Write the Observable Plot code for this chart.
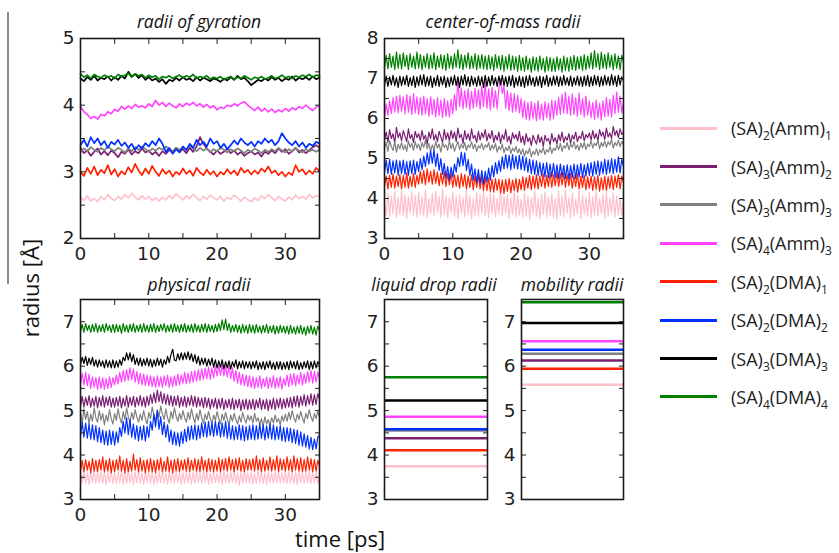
<!DOCTYPE html>
<html><head><meta charset="utf-8">
<script src="https://cdn.jsdelivr.net/npm/d3@7"></script>
<script src="https://cdn.jsdelivr.net/npm/@observablehq/plot@0.6"></script>
<style>
body{margin:0;background:#fff;}
#root{position:relative;width:839px;height:553px;overflow:hidden;background:#fff;}
.p{position:absolute;}
.t{position:absolute;font-family:"Open Sans";font-style:italic;font-size:17.5px;text-align:center;width:240px;color:#111;line-height:20px;}
.lab{position:absolute;font-family:"Open Sans";font-size:22px;color:#111;white-space:nowrap;line-height:24px;}
#legend{position:absolute;left:660px;top:109px;font-family:"Open Sans";font-size:18px;color:#222;}
.row{height:38.4px;display:flex;align-items:center;white-space:nowrap;}
.sw{width:57px;height:3px;margin-right:14px;}
sub{font-size:12px;vertical-align:-5px;line-height:0;}
</style></head>
<body><div id="root"></div>
<script>
// ---------- categories ----------
const series = ["(SA)_2(Amm)_1","(SA)_3(Amm)_2","(SA)_3(Amm)_3","(SA)_4(Amm)_3","(SA)_2(DMA)_1","(SA)_2(DMA)_2","(SA)_3(DMA)_3","(SA)_4(DMA)_4"];
const colors = ["#ffc0cb","#7a1f74","#808080","#ff44ff","#ff2200","#0030ff","#000000","#008000"];
const timeCoarse = d3.range(0, 35.001, 0.5);  // 71 samples [ps]
const timeFine = d3.range(0, 35.001, 0.25);   // 141 samples [ps]

// ---------- radii of gyration (every 0.5 ps) ----------
const rgPink = [2.62,2.57,2.64,2.56,2.60,2.55,2.63,2.58,2.66,2.60,
2.57,2.63,2.59,2.66,2.61,2.68,2.62,2.58,2.64,2.59,
2.63,2.57,2.61,2.56,2.62,2.58,2.64,2.60,2.67,2.62,
2.58,2.64,2.60,2.66,2.61,2.57,2.63,2.59,2.65,2.61,
2.58,2.63,2.56,2.62,2.59,2.65,2.61,2.56,2.62,2.58,
2.55,2.61,2.57,2.64,2.60,2.66,2.61,2.57,2.63,2.59,
2.56,2.62,2.58,2.65,2.60,2.63,2.59,2.66,2.61,2.64,2.63];
const rgPurple = [3.36,3.28,3.32,3.24,3.30,3.35,3.26,3.31,3.25,3.32,
3.28,3.22,3.30,3.27,3.34,3.26,3.31,3.28,3.35,3.29,
3.32,3.26,3.30,3.24,3.31,3.27,3.33,3.29,3.36,3.30,
3.34,3.28,3.36,3.30,3.38,3.52,3.42,3.35,3.30,3.26,
3.32,3.27,3.30,3.35,3.28,3.32,3.26,3.30,3.24,3.28,
3.31,3.26,3.29,3.23,3.30,3.27,3.32,3.28,3.35,3.30,
3.34,3.27,3.31,3.36,3.29,3.33,3.28,3.32,3.37,3.40,3.36];
const rgGray = [3.30,3.35,3.31,3.37,3.33,3.30,3.36,3.32,3.38,3.34,
3.31,3.36,3.33,3.29,3.35,3.31,3.37,3.33,3.38,3.34,
3.30,3.35,3.32,3.36,3.33,3.38,3.34,3.31,3.36,3.33,
3.37,3.33,3.39,3.35,3.31,3.36,3.32,3.35,3.30,3.34,
3.31,3.36,3.33,3.29,3.34,3.31,3.35,3.32,3.28,3.33,
3.30,3.35,3.32,3.28,3.33,3.30,3.34,3.31,3.36,3.32,
3.29,3.34,3.31,3.35,3.32,3.29,3.34,3.31,3.33,3.30,3.33];
const rgMagenta = [3.98,3.90,3.86,3.80,3.83,3.79,3.86,3.84,3.90,3.87,
3.94,3.91,3.98,3.94,3.99,3.95,4.01,3.97,3.99,3.96,
4.02,3.98,4.07,4.00,4.04,3.98,4.03,3.99,3.96,4.02,
3.98,4.03,4.00,4.04,3.99,4.02,3.97,4.01,3.96,3.99,
3.93,3.97,3.95,4.00,3.98,4.02,3.99,4.03,4.05,4.00,
3.96,3.92,3.97,3.91,3.95,3.90,3.94,3.89,3.93,3.90,
3.95,3.91,3.96,3.93,3.98,3.95,4.00,3.96,3.92,3.97,3.99];
const rgRed = [3.00,2.94,3.06,2.97,3.08,2.95,3.03,2.98,3.10,2.96,
3.04,2.93,3.01,2.96,3.07,2.99,3.12,3.02,2.95,3.05,
2.97,3.09,3.00,2.94,3.04,2.97,3.02,2.93,3.00,2.96,
3.05,2.97,3.02,2.94,3.06,2.99,2.95,3.03,2.96,3.01,
2.93,3.00,2.96,3.04,2.97,3.02,2.95,3.06,2.99,3.03,
2.96,3.02,2.97,3.05,3.00,3.08,2.98,3.02,2.95,3.00,
2.93,2.99,2.95,3.10,3.00,3.04,2.96,3.02,2.97,3.06,3.01];
const rgBlue = [3.40,3.48,3.38,3.52,3.43,3.50,3.40,3.46,3.36,3.45,
3.41,3.48,3.39,3.44,3.36,3.42,3.33,3.40,3.35,3.43,
3.38,3.46,3.40,3.50,3.42,3.30,3.36,3.27,3.34,3.29,
3.38,3.33,3.42,3.36,3.48,3.40,3.45,3.38,3.50,3.42,
3.46,3.36,3.42,3.34,3.40,3.47,3.41,3.50,3.44,3.40,
3.45,3.38,3.46,3.42,3.50,3.44,3.48,3.40,3.46,3.58,
3.50,3.44,3.40,3.46,3.38,3.44,3.36,3.42,3.39,3.45,3.42];
const rgBlack = [4.40,4.36,4.42,4.38,4.44,4.37,4.41,4.39,4.43,4.37,
4.42,4.38,4.44,4.40,4.50,4.43,4.47,4.41,4.45,4.38,
4.42,4.37,4.40,4.35,4.39,4.32,4.38,4.36,4.41,4.37,
4.42,4.38,4.40,4.36,4.42,4.37,4.41,4.39,4.36,4.40,
4.38,4.35,4.40,4.37,4.42,4.38,4.44,4.39,4.41,4.36,
4.30,4.34,4.38,4.36,4.40,4.37,4.42,4.38,4.41,4.36,
4.40,4.38,4.43,4.37,4.41,4.39,4.42,4.38,4.43,4.39,4.41];
const rgGreen = [4.47,4.42,4.45,4.40,4.46,4.43,4.41,4.45,4.42,4.44,
4.40,4.46,4.43,4.45,4.48,4.42,4.47,4.44,4.46,4.41,
4.45,4.42,4.44,4.39,4.43,4.41,4.44,4.40,4.43,4.45,
4.41,4.44,4.42,4.46,4.40,4.43,4.41,4.44,4.39,4.42,
4.40,4.43,4.38,4.41,4.43,4.39,4.42,4.40,4.44,4.41,
4.38,4.42,4.40,4.43,4.39,4.41,4.44,4.40,4.42,4.45,
4.41,4.43,4.40,4.44,4.42,4.45,4.43,4.46,4.42,4.45,4.44];

// ---------- center-of-mass radii (every 0.25 ps) ----------
const cmPink = [3.86,3.58,4.12,3.54,4.06,3.62,4.18,3.52,4.02,3.60,4.20,3.56,4.10,3.50,4.04,3.64,4.16,3.58,4.08,3.54,
4.14,3.60,4.04,3.56,4.22,3.52,4.00,3.62,4.12,3.58,4.18,3.66,4.06,3.54,4.24,3.60,4.08,3.52,4.02,3.64,
4.16,3.56,4.06,3.50,4.10,3.62,4.02,3.54,4.20,3.60,4.08,3.50,4.00,3.58,4.14,3.56,4.10,3.64,4.22,3.58,
4.04,3.52,4.16,3.62,4.10,3.54,4.00,3.60,4.22,3.56,4.06,3.62,4.12,3.50,4.02,3.60,4.18,3.54,4.08,3.58,
3.98,3.52,4.14,3.56,4.06,3.48,4.02,3.62,4.20,3.56,4.00,3.50,4.10,3.60,4.16,3.54,4.04,3.58,4.12,3.52,
4.00,3.48,4.18,3.58,4.06,3.54,4.22,3.64,4.02,3.52,4.14,3.56,3.98,3.62,4.20,3.50,4.08,3.60,4.02,3.56,
4.16,3.52,4.04,3.58,4.22,3.56,4.00,3.62,4.10,3.50,4.18,3.56,4.02,3.64,4.14,3.54,4.06,3.60,4.00,3.56,4.04];
const cmPurple = [5.48,5.66,5.40,5.72,5.50,5.62,5.38,5.78,5.52,5.64,5.44,5.70,5.56,5.42,5.74,5.50,5.60,5.40,5.68,5.52,
5.62,5.44,5.70,5.48,5.58,5.36,5.66,5.50,5.74,5.46,5.60,5.42,5.68,5.54,5.40,5.72,5.48,5.64,5.44,5.70,
5.50,5.66,5.42,5.76,5.52,5.60,5.38,5.70,5.48,5.62,5.44,5.74,5.50,5.58,5.40,5.68,5.46,5.64,5.52,5.72,
5.44,5.62,5.50,5.70,5.40,5.58,5.46,5.66,5.38,5.60,5.48,5.72,5.42,5.56,5.36,5.64,5.50,5.60,5.44,5.68,
5.40,5.56,5.34,5.62,5.42,5.52,5.32,5.58,5.46,5.36,5.60,5.40,5.54,5.30,5.58,5.44,5.50,5.34,5.62,5.42,
5.52,5.36,5.60,5.44,5.66,5.40,5.54,5.46,5.62,5.38,5.58,5.48,5.66,5.42,5.56,5.50,5.68,5.44,5.60,5.52,
5.64,5.46,5.70,5.50,5.62,5.44,5.72,5.56,5.66,5.48,5.76,5.54,5.64,5.50,5.80,5.58,5.70,5.52,5.74,5.60,5.66];
const cmGray = [5.26,5.40,5.18,5.44,5.30,5.20,5.42,5.16,5.36,5.24,5.40,5.22,5.34,5.18,5.44,5.28,5.38,5.20,5.42,5.26,
5.36,5.20,5.40,5.28,5.46,5.24,5.38,5.18,5.34,5.22,5.42,5.26,5.36,5.16,5.40,5.28,5.34,5.20,5.44,5.24,
5.38,5.18,5.32,5.42,5.22,5.36,5.26,5.40,5.20,5.34,5.28,5.42,5.24,5.36,5.18,5.32,5.26,5.38,5.22,5.34,
5.28,5.40,5.20,5.34,5.24,5.38,5.16,5.30,5.22,5.36,5.14,5.28,5.20,5.32,5.12,5.26,5.18,5.30,5.14,5.24,
5.10,5.24,5.06,5.20,5.12,5.26,5.04,5.18,5.10,5.24,5.08,5.22,5.14,5.28,5.10,5.22,5.16,5.30,5.12,5.26,
5.20,5.34,5.22,5.38,5.18,5.32,5.26,5.40,5.22,5.36,5.28,5.42,5.24,5.34,5.20,5.38,5.26,5.40,5.22,5.36,
5.30,5.44,5.26,5.38,5.32,5.46,5.24,5.40,5.30,5.44,5.28,5.42,5.34,5.48,5.26,5.40,5.32,5.46,5.30,5.42,5.36];
const cmMagenta = [6.02,6.36,6.08,6.44,6.12,6.52,6.16,6.56,6.14,6.58,6.18,6.54,6.12,6.60,6.16,6.56,6.10,6.62,6.14,6.54,
6.10,6.52,6.08,6.56,6.12,6.50,6.06,6.54,6.10,6.48,6.04,6.52,6.08,6.46,6.02,6.50,6.06,6.44,6.04,6.48,
6.12,6.60,6.20,7.02,6.30,6.76,6.24,6.70,6.28,6.74,6.22,6.68,6.26,6.76,6.30,6.72,6.24,6.80,6.30,6.92,
6.26,6.74,6.22,6.78,6.28,6.70,6.24,6.76,7.00,6.62,6.80,6.26,6.70,6.20,6.64,6.16,6.62,6.18,6.58,6.14,
6.50,6.02,6.44,5.98,6.40,5.96,6.42,6.00,6.38,5.94,6.44,5.98,6.36,5.96,6.42,6.02,6.38,5.96,6.46,6.00,
6.44,6.08,6.52,6.10,6.60,6.14,6.66,6.12,6.56,6.08,6.62,6.10,6.52,6.06,6.64,6.10,6.50,6.04,6.56,6.08,
6.44,6.02,6.40,5.98,6.46,6.02,6.38,5.96,6.44,6.04,6.52,6.06,6.48,6.04,6.58,6.12,6.66,6.16,6.56,6.14,6.40];
const cmRed = [4.30,4.56,4.24,4.58,4.28,4.62,4.26,4.56,4.30,4.60,4.24,4.58,4.28,4.64,4.26,4.56,4.30,4.62,4.28,4.58,
4.36,4.68,4.38,4.70,4.34,4.74,4.40,4.68,4.36,4.72,4.38,4.66,4.32,4.64,4.36,4.68,4.30,4.62,4.34,4.64,
4.28,4.60,4.30,4.58,4.26,4.62,4.30,4.60,4.24,4.56,4.28,4.60,4.22,4.56,4.28,4.58,4.24,4.56,4.20,4.54,
4.20,4.52,4.18,4.48,4.16,4.50,4.20,4.48,4.14,4.46,4.12,4.48,4.18,4.50,4.14,4.46,4.20,4.50,4.16,4.48,
4.22,4.54,4.20,4.52,4.26,4.58,4.22,4.56,4.26,4.60,4.24,4.56,4.30,4.62,4.26,4.58,4.30,4.64,4.28,4.60,
4.32,4.66,4.30,4.62,4.34,4.64,4.28,4.60,4.32,4.62,4.26,4.58,4.30,4.62,4.24,4.56,4.28,4.58,4.22,4.54,
4.26,4.56,4.20,4.54,4.24,4.58,4.18,4.52,4.22,4.56,4.20,4.54,4.26,4.58,4.22,4.56,4.28,4.60,4.24,4.56,4.40];
const cmBlue = [4.64,4.96,4.62,4.98,4.60,4.94,4.64,4.96,4.58,4.94,4.62,4.96,4.60,4.92,4.58,4.94,4.62,4.96,4.60,4.92,
4.68,5.00,4.72,5.06,4.80,5.14,4.86,5.20,4.88,5.22,4.80,5.12,4.70,5.00,4.60,4.88,4.50,4.80,4.46,4.78,
4.54,4.86,4.66,5.02,4.80,5.16,4.82,5.14,4.70,4.98,4.58,4.86,4.46,4.74,4.40,4.72,4.38,4.70,4.36,4.68,
4.42,4.76,4.46,4.82,4.54,4.90,4.62,4.94,4.68,5.04,4.74,5.10,4.76,5.08,4.72,5.10,4.76,5.06,4.74,5.08,
4.72,5.06,4.70,5.02,4.66,4.98,4.62,4.96,4.60,4.94,4.58,4.90,4.56,4.88,4.54,4.90,4.52,4.86,4.54,4.88,
4.52,4.84,4.50,4.86,4.54,4.82,4.50,4.84,4.48,4.82,4.52,4.86,4.50,4.84,4.54,4.88,4.52,4.84,4.56,4.88,
4.58,4.90,4.56,4.92,4.60,4.94,4.58,4.92,4.62,4.98,4.60,4.96,4.64,5.00,4.62,4.98,4.66,5.04,4.64,4.98,4.80];
const cmBlack = [6.82,7.06,6.80,7.04,6.84,7.08,6.82,7.02,6.78,7.06,6.82,7.04,6.84,7.08,6.80,7.02,6.82,7.06,6.78,7.04,
6.82,7.08,6.84,7.10,6.80,7.04,6.82,7.06,6.78,7.02,6.82,7.08,6.80,7.04,6.84,7.06,6.78,7.02,6.80,7.04,
6.84,7.08,6.82,7.04,6.78,7.06,6.84,7.10,6.82,7.04,6.80,7.06,6.84,7.02,6.80,7.06,6.82,7.04,6.78,7.08,
6.80,7.04,6.82,7.08,6.84,7.02,6.80,7.06,6.84,7.08,6.82,7.04,6.80,7.06,6.82,7.08,6.78,7.02,6.82,7.06,
6.80,7.04,6.78,7.06,6.82,7.08,6.84,7.02,6.80,7.04,6.82,7.06,6.78,7.04,6.84,7.08,6.80,7.02,6.82,7.06,
6.84,7.06,6.80,7.04,6.82,7.08,6.84,7.02,6.82,7.06,6.80,7.02,6.84,7.06,6.82,7.04,6.80,7.06,6.82,7.08,
6.80,7.04,6.82,7.08,6.84,7.06,6.80,7.04,6.82,7.08,6.84,7.04,6.82,7.10,6.84,7.06,6.80,7.08,6.84,7.04,6.94];
const cmGreen = [7.26,7.58,7.24,7.62,7.28,7.56,7.22,7.66,7.26,7.60,7.24,7.64,7.30,7.58,7.22,7.62,7.28,7.56,7.24,7.66,
7.26,7.60,7.22,7.56,7.28,7.62,7.24,7.58,7.26,7.64,7.22,7.56,7.28,7.60,7.24,7.58,7.20,7.62,7.26,7.56,
7.24,7.62,7.28,7.72,7.26,7.60,7.22,7.58,7.28,7.64,7.24,7.56,7.26,7.62,7.22,7.58,7.26,7.60,7.24,7.56,
7.22,7.58,7.24,7.54,7.20,7.60,7.26,7.56,7.22,7.58,7.18,7.54,7.24,7.60,7.20,7.56,7.22,7.54,7.18,7.58,
7.20,7.52,7.18,7.56,7.22,7.50,7.16,7.54,7.20,7.52,7.18,7.56,7.22,7.50,7.16,7.54,7.20,7.52,7.18,7.50,
7.18,7.54,7.22,7.50,7.16,7.56,7.20,7.52,7.18,7.54,7.22,7.58,7.20,7.54,7.24,7.56,7.20,7.60,7.22,7.56,
7.26,7.64,7.24,7.70,7.28,7.62,7.22,7.66,7.26,7.60,7.24,7.64,7.28,7.58,7.22,7.62,7.26,7.56,7.22,7.58,7.40];

// ---------- physical radii (every 0.25 ps) ----------
const phPink = [3.62,3.38,3.64,3.36,3.60,3.34,3.62,3.38,3.66,3.36,3.60,3.38,3.64,3.36,3.62,3.34,3.60,3.38,3.64,3.36,
3.60,3.36,3.62,3.38,3.66,3.34,3.62,3.36,3.64,3.38,3.60,3.34,3.62,3.38,3.66,3.36,3.60,3.34,3.62,3.38,
3.64,3.36,3.62,3.34,3.60,3.36,3.64,3.38,3.66,3.36,3.60,3.34,3.62,3.38,3.64,3.36,3.62,3.38,3.60,3.34,
3.62,3.36,3.64,3.38,3.60,3.34,3.62,3.36,3.64,3.38,3.60,3.36,3.66,3.38,3.62,3.34,3.60,3.36,3.64,3.38,
3.60,3.36,3.62,3.34,3.64,3.38,3.60,3.36,3.62,3.38,3.64,3.36,3.60,3.32,3.62,3.36,3.64,3.38,3.60,3.36,
3.62,3.34,3.60,3.36,3.64,3.38,3.62,3.36,3.60,3.34,3.62,3.38,3.60,3.36,3.64,3.38,3.62,3.36,3.60,3.38,
3.62,3.36,3.64,3.38,3.60,3.36,3.62,3.34,3.64,3.38,3.60,3.36,3.62,3.38,3.64,3.36,3.60,3.38,3.62,3.36,3.50];
const phPurple = [5.10,5.32,5.08,5.30,5.12,5.34,5.08,5.28,5.10,5.32,5.06,5.30,5.10,5.34,5.08,5.30,5.12,5.32,5.08,5.28,
5.08,5.30,5.10,5.32,5.06,5.28,5.10,5.34,5.08,5.30,5.12,5.32,5.08,5.30,5.12,5.34,5.10,5.30,5.08,5.32,
5.12,5.36,5.16,5.40,5.18,5.46,5.20,5.42,5.16,5.38,5.14,5.36,5.12,5.34,5.10,5.32,5.12,5.34,5.08,5.30,
5.10,5.32,5.08,5.30,5.12,5.34,5.10,5.32,5.08,5.30,5.10,5.28,5.06,5.30,5.08,5.28,5.04,5.26,5.08,5.28,
5.04,5.26,5.06,5.28,5.02,5.24,5.06,5.26,5.04,5.28,5.02,5.24,5.06,5.26,5.00,5.24,5.04,5.26,5.02,5.24,
5.04,5.26,5.02,5.24,5.06,5.28,5.02,5.24,5.04,5.26,5.00,5.24,5.04,5.28,5.02,5.26,5.06,5.28,5.04,5.26,
5.06,5.28,5.08,5.30,5.06,5.32,5.10,5.34,5.08,5.32,5.12,5.36,5.10,5.34,5.14,5.38,5.12,5.36,5.14,5.38,5.26];
const phGray = [4.96,4.72,5.04,4.80,4.98,4.70,4.92,4.76,5.06,4.84,4.74,5.00,4.78,4.94,4.68,4.90,4.76,5.02,4.82,4.70,
4.94,4.78,5.04,4.84,4.72,4.98,4.80,5.06,4.86,4.74,4.96,4.80,5.02,4.86,4.74,4.92,4.78,5.00,4.82,4.70,
4.96,4.82,5.08,4.90,4.76,5.02,4.86,5.10,4.92,4.80,5.04,4.84,4.72,4.98,4.82,5.06,4.88,4.76,4.94,4.80,
5.00,4.84,4.74,4.96,4.80,5.04,4.86,4.72,4.94,4.78,5.02,4.84,4.72,4.92,4.80,4.98,4.82,4.70,4.90,4.78,
4.98,4.82,4.70,4.92,4.78,4.96,4.80,4.68,4.90,4.76,4.94,4.80,4.70,4.88,4.74,4.96,4.82,4.72,4.90,4.78,
4.88,4.72,4.94,4.76,4.84,4.68,4.82,4.64,4.86,4.70,4.80,4.66,4.84,4.72,4.90,4.74,4.82,4.68,4.88,4.76,
4.92,4.76,4.96,4.80,5.00,4.84,4.74,4.92,4.80,4.98,4.84,4.72,4.94,4.82,5.02,4.86,4.76,4.94,4.82,4.98,4.86];
const phMagenta = [5.60,5.84,5.58,5.86,5.56,5.82,5.50,5.76,5.52,5.74,5.48,5.76,5.50,5.74,5.48,5.72,5.50,5.76,5.52,5.74,
5.58,5.80,5.60,5.86,5.64,5.90,5.66,5.92,5.68,5.96,5.70,5.94,5.64,5.88,5.60,5.84,5.58,5.82,5.56,5.80,
5.56,5.78,5.54,5.76,5.52,5.78,5.54,5.76,5.52,5.78,5.56,5.80,5.52,5.76,5.54,5.78,5.56,5.82,5.58,5.80,
5.62,5.86,5.60,5.84,5.62,5.88,5.64,5.90,5.66,5.92,5.68,5.94,5.70,5.96,5.72,5.98,5.70,5.96,5.74,6.00,
5.78,6.02,5.80,6.04,5.78,6.00,5.76,6.02,5.72,5.96,5.66,5.90,5.62,5.86,5.58,5.82,5.56,5.80,5.54,5.78,
5.52,5.76,5.50,5.74,5.52,5.78,5.50,5.72,5.54,5.76,5.50,5.74,5.52,5.78,5.50,5.74,5.52,5.76,5.48,5.72,
5.56,5.80,5.54,5.82,5.58,5.84,5.56,5.80,5.60,5.86,5.58,5.82,5.62,5.88,5.64,5.90,5.62,5.88,5.64,5.86,5.72];
const phRed = [3.64,3.88,3.62,3.90,3.66,3.86,3.60,3.92,3.64,3.88,3.62,3.90,3.66,3.96,3.62,3.88,3.64,3.92,3.60,3.88,
3.62,3.90,3.66,3.98,3.64,3.88,3.60,3.92,3.62,3.86,3.64,4.02,3.66,3.90,3.62,3.94,3.64,3.88,3.60,3.90,
3.64,3.92,3.62,3.88,3.60,3.90,3.66,3.94,3.62,3.86,3.64,3.96,3.62,3.88,3.60,3.90,3.64,3.92,3.62,3.88,
3.66,3.90,3.64,3.94,3.62,3.88,3.66,3.92,3.64,3.90,3.62,3.96,3.66,3.88,3.62,3.92,3.64,3.90,3.62,3.88,
3.64,3.94,3.62,3.90,3.66,3.92,3.64,3.96,3.66,3.90,3.62,3.92,3.66,3.94,3.64,3.88,3.62,3.92,3.66,3.90,
3.66,3.92,3.64,3.98,3.66,3.90,3.62,3.94,3.64,3.88,3.66,3.96,3.64,3.90,3.66,3.98,3.62,3.92,3.66,3.90,
3.64,3.96,3.66,3.90,3.62,3.98,3.66,3.92,3.64,3.94,3.62,3.90,3.64,3.96,3.66,3.92,3.62,3.90,3.64,3.88,3.76];
const phBlue = [4.42,4.74,4.40,4.72,4.38,4.70,4.36,4.68,4.34,4.66,4.30,4.62,4.28,4.56,4.24,4.54,4.22,4.56,4.24,4.54,
4.22,4.52,4.28,4.62,4.42,4.76,4.50,4.84,4.46,4.80,4.40,4.70,4.36,4.66,4.32,4.64,4.34,4.66,4.32,4.64,
4.40,4.76,4.56,4.92,4.64,5.00,4.58,4.86,4.46,4.74,4.40,4.68,4.30,4.56,4.24,4.52,4.22,4.50,4.20,4.52,
4.26,4.58,4.30,4.64,4.34,4.66,4.36,4.68,4.34,4.66,4.38,4.72,4.42,4.74,4.40,4.76,4.44,4.72,4.42,4.76,
4.44,4.74,4.40,4.72,4.42,4.76,4.38,4.70,4.36,4.66,4.34,4.64,4.36,4.68,4.34,4.66,4.32,4.64,4.34,4.66,
4.36,4.68,4.34,4.66,4.36,4.70,4.38,4.68,4.34,4.66,4.38,4.70,4.36,4.68,4.34,4.64,4.36,4.66,4.32,4.62,
4.30,4.62,4.32,4.60,4.28,4.58,4.26,4.56,4.22,4.52,4.20,4.48,4.18,4.44,4.14,4.40,4.12,4.36,4.14,4.40,4.44];
const phBlack = [6.04,6.20,6.06,6.22,6.02,6.18,6.04,6.20,6.00,6.14,5.98,6.14,6.00,6.12,5.96,6.14,5.98,6.12,5.96,6.14,
5.96,6.12,5.98,6.14,6.02,6.20,6.12,6.30,6.14,6.30,6.10,6.26,6.04,6.18,6.02,6.18,6.00,6.16,6.02,6.18,
6.00,6.16,5.98,6.14,6.00,6.18,6.02,6.16,5.98,6.14,6.04,6.22,6.08,6.26,6.38,6.14,6.12,6.28,6.14,6.30,
6.14,6.30,6.16,6.32,6.14,6.28,6.10,6.26,6.06,6.22,6.02,6.18,6.04,6.18,6.00,6.16,6.02,6.18,5.98,6.14,
5.96,6.12,5.98,6.14,5.94,6.10,5.96,6.12,5.94,6.10,5.98,6.14,5.94,6.10,5.96,6.12,5.94,6.10,5.96,6.10,
5.94,6.10,5.96,6.12,5.92,6.08,5.94,6.10,5.92,6.10,5.96,6.12,5.94,6.08,5.92,6.10,5.94,6.10,5.92,6.08,
5.94,6.10,5.92,6.12,5.96,6.10,5.94,6.12,5.92,6.08,5.94,6.10,5.96,6.12,5.92,6.10,5.94,6.12,5.96,6.10,6.02];
const phGreen = [6.78,6.94,6.76,6.96,6.80,6.92,6.76,6.94,6.78,6.96,6.76,6.92,6.78,6.94,6.76,6.96,6.80,6.92,6.76,6.94,
6.76,6.94,6.78,6.92,6.74,6.96,6.78,6.92,6.76,6.94,6.78,6.96,6.76,6.92,6.78,6.94,6.76,6.96,6.78,6.92,
6.76,6.94,6.78,6.96,6.76,6.92,6.78,6.94,6.80,6.96,6.76,6.92,6.78,6.94,6.76,6.96,6.78,6.92,6.76,6.94,
6.78,6.96,6.76,6.92,6.78,6.94,6.76,6.96,6.78,6.92,6.76,6.94,6.78,6.96,6.76,6.94,6.78,6.92,6.76,6.94,
6.78,6.96,6.80,7.04,6.82,7.06,6.80,6.96,6.76,6.92,6.78,6.94,6.76,6.92,6.74,6.94,6.76,6.92,6.74,6.94,
6.76,6.92,6.74,6.94,6.76,6.90,6.74,6.92,6.76,6.94,6.74,6.90,6.76,6.92,6.72,6.90,6.74,6.92,6.76,6.90,
6.74,6.90,6.72,6.92,6.74,6.88,6.72,6.90,6.74,6.92,6.72,6.88,6.70,6.90,6.74,6.92,6.72,6.88,6.70,6.90,6.80];

// ---------- constant radii (one value per cluster, legend order) ----------
const liquidDrop = [3.75,4.38,4.55,4.86,4.11,4.58,5.23,5.75];
const mobility   = [5.58,6.13,6.28,6.56,5.94,6.37,6.97,7.44];

// ---------- tick labels ----------
const xTickLabels = [0,10,20,30];
const xTicks = [0,5,10,15,20,25,30,35];

const root = document.getElementById("root");
const style = {fontSize:"18.5px", fontFamily:"DejaVu Sans", color:"#222", background:"transparent", overflow:"visible"};
const fmt = d3.format("d");

function place(el, left, top){ el.classList.add("p"); el.style.left = left+"px"; el.style.top = top+"px"; root.appendChild(el); }

function frameAxes(yLab, yMin, withX){
  const m = [];
  if (withX) {
    m.push(Plot.axisX(xTickLabels, {anchor:"bottom", tickSize:0, tickPadding:8, tickFormat:fmt, label:null}));
    m.push(Plot.axisX(xTicks, {anchor:"bottom", tickSize:-5, tickFormat:()=>"", label:null}));
    m.push(Plot.axisX(xTicks, {anchor:"top", tickSize:-5, tickFormat:()=>"", label:null}));
  }
  m.push(Plot.axisY(yLab, {anchor:"left", tickSize:0, tickPadding:6, tickFormat:fmt, label:null}));
  m.push(Plot.axisY(yMin, {anchor:"left", tickSize:-5, tickFormat:()=>"", label:null}));
  m.push(Plot.axisY(yMin, {anchor:"right", tickSize:-5, tickFormat:()=>"", label:null}));
  m.push(Plot.frame({stroke:"#1a1a1a", strokeWidth:1.6}));
  return m;
}

function timePanel(t, vals, yDom, yLab, yMin, sw){
  const marks = vals.map((v,i)=> Plot.line(v, {x:(d,j)=>t[j], y:d=>d, stroke:colors[i], strokeWidth:sw}));
  return Plot.plot({width:289, height:240, marginLeft:40, marginRight:10, marginTop:10, marginBottom:30,
    x:{domain:[0,35], axis:null}, y:{domain:yDom, axis:null}, style,
    marks:[...marks, ...frameAxes(yLab, yMin, true)]});
}

function constPanel(vals, w){
  const marks = vals.map((v,i)=> Plot.ruleY([v], {stroke:colors[i], strokeWidth:2.5}));
  return Plot.plot({width:w, height:240, marginLeft:40, marginRight:6, marginTop:10, marginBottom:30,
    x:{domain:[0,1], axis:null}, y:{domain:[3,7.5], axis:null}, style,
    marks:[...marks, ...frameAxes([3,4,5,6,7], [3,3.5,4,4.5,5,5.5,6,6.5,7], false)]});
}

place(timePanel(timeCoarse, [rgPink,rgPurple,rgGray,rgMagenta,rgRed,rgBlue,rgBlack,rgGreen],[2,5],[2,3,4,5],[2,2.5,3,3.5,4,4.5,5],1.7), 40, 28);
place(timePanel(timeFine, [cmPink,cmPurple,cmGray,cmMagenta,cmRed,cmBlue,cmBlack,cmGreen],[3,8],[3,4,5,6,7,8],[3,3.5,4,4.5,5,5.5,6,6.5,7,7.5,8],1.2), 344, 28);
place(timePanel(timeFine, [phPink,phPurple,phGray,phMagenta,phRed,phBlue,phBlack,phGreen],[3,7.5],[3,4,5,6,7],[3,3.5,4,4.5,5,5.5,6,6.5,7],1.2), 40, 289);
place(constPanel(liquidDrop, 149), 344, 289);
place(constPanel(mobility, 148), 481, 289);

// titles
function text(cls, str, cx, cy){
  const d = document.createElement("div"); d.className = cls; d.textContent = str;
  d.style.left = (cx-120)+"px"; d.style.top = (cy-10)+"px";
  root.appendChild(d);
}
text("t","radii of gyration",199,21);
text("t","center-of-mass radii",503,21);
text("t","physical radii",199,284);
text("t","liquid drop radii",434,284);
text("t","mobility radii",572,284);

const yl = document.createElement("div"); yl.className="lab"; yl.textContent="radius [Å]";
Object.assign(yl.style,{left:"-30px",top:"276px",width:"120px",textAlign:"center",transform:"rotate(-90deg)"});
root.appendChild(yl);
const xl = document.createElement("div"); xl.className="lab"; xl.textContent="time [ps]";
Object.assign(xl.style,{left:"280px",top:"526px",width:"120px",textAlign:"center"});
root.appendChild(xl);
const vline = document.createElement("div");
Object.assign(vline.style,{position:"absolute",left:"7px",top:"12px",width:"2px",height:"272px",background:"#8a8a8a"});
root.appendChild(vline);

// legend
const lg = document.createElement("div"); lg.id="legend";
series.forEach((s,i)=>{
  const r = document.createElement("div"); r.className="row";
  const sw = document.createElement("span"); sw.className="sw"; sw.style.background=colors[i];
  const tx = document.createElement("span");
  tx.innerHTML = s.replace(/_(\d)/g,"<sub>$1</sub>");
  r.appendChild(sw); r.appendChild(tx); lg.appendChild(r);
});
root.appendChild(lg);
</script></body></html>
